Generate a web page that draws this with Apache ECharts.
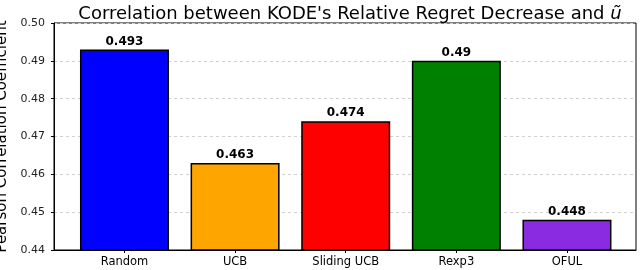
<!DOCTYPE html>
<html><head><meta charset="utf-8">
<script src="https://cdn.jsdelivr.net/npm/echarts@6/dist/echarts.min.js"></script>
<style>html,body{margin:0;padding:0;background:#fff}#c{width:640px;height:270px}</style>
</head><body><div id="c"></div>
<script>
var categories = ['Random', 'UCB', 'Sliding UCB', 'Rexp3', 'OFUL'];
var values = [0.493, 0.463, 0.474, 0.49, 0.448];
var colors = ['#0000ff', '#ffa500', '#ff0000', '#008000', '#8a2be2'];

var chart = echarts.init(document.getElementById('c'), null, {renderer: 'canvas'});
var font = 'DejaVu Sans';
var positions = categories.map(function (c, i) { return i; });
chart.setOption({
  animation: false,
  title: {
    text: "Correlation between KODE's Relative Regret Decrease and {i|ũ}",
    left: 345, top: 0, textAlign: 'center',
    textStyle: {fontFamily: font, fontSize: 18, fontWeight: 'normal', color: '#000',
      rich: {i: {fontFamily: font, fontStyle: 'italic', fontSize: 18, color: '#000'}}}
  },
  grid: {left: 54, right: 4, top: 23, bottom: 20, show: true, borderColor: '#000', borderWidth: 1,
    containLabel: false, outerBoundsMode: 'none'},
  xAxis: {
    type: 'value', min: -0.637, max: 4.624,
    axisLine: {show: true, onZero: false, lineStyle: {color: '#000'}},
    splitLine: {show: false},
    axisTick: {show: true, customValues: positions, length: 3, lineStyle: {color: '#000'}},
    axisLabel: {customValues: positions, fontFamily: font, fontSize: 11.5, color: '#000', margin: 6,
      formatter: function (v) { return categories[Math.round(v)]; }}
  },
  yAxis: {
    type: 'value', min: 0.44, max: 0.50, interval: 0.01,
    name: 'Pearson Correlation Coefficient', nameLocation: 'middle', nameGap: 40,
    nameTextStyle: {fontFamily: font, fontSize: 15, color: '#000'},
    axisLine: {show: true, onZero: false, lineStyle: {color: '#000'}},
    axisTick: {show: true, length: 3, lineStyle: {color: '#000'}},
    axisLabel: {fontFamily: font, fontSize: 11, color: '#222', margin: 9,
      formatter: function (v) { return v.toFixed(2); }},
    splitLine: {show: true, lineStyle: {color: '#d0d0d0', type: [3, 3], width: 1}}
  },
  series: [{
    type: 'bar',
    barWidth: 89,
    data: values.map(function (v, i) {
      return {value: [i, v], itemStyle: {color: colors[i], borderColor: '#000', borderWidth: 1.5}};
    }),
    label: {show: true, position: 'top', distance: 2, fontFamily: font, fontSize: 12,
      fontWeight: 'bold', color: '#000',
      formatter: function (p) { return String(p.value[1]); }}
  }]
});
</script></body></html>
